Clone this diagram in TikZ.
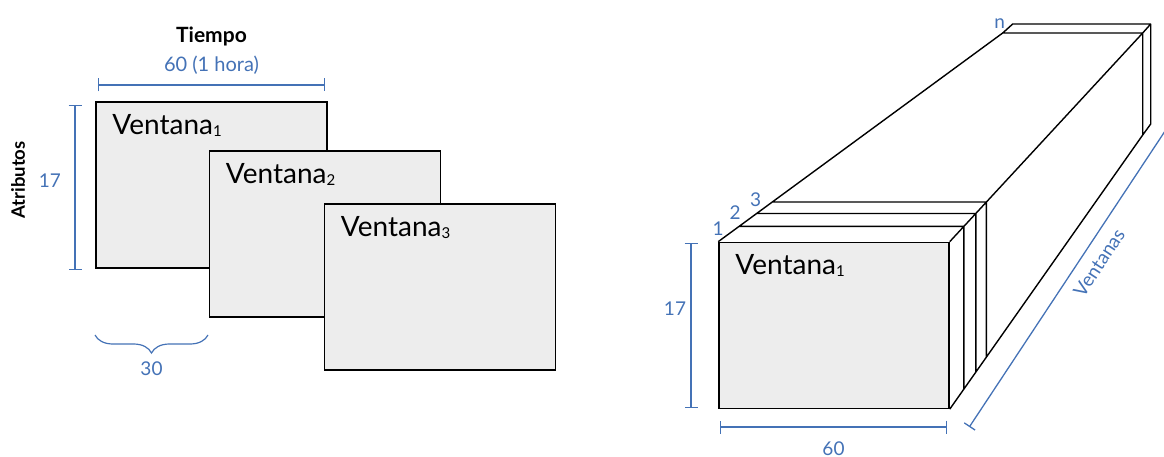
\documentclass[tikz,border=0pt]{standalone}
\usepackage{fontspec}
\setmainfont{Lato}
\usetikzlibrary{arrows.meta,decorations.pathreplacing}

\definecolor{dimblue}{RGB}{68,114,182}
\newcommand{\winsub}[1]{\raisebox{-2pt}{\fontsize{15}{15}\selectfont #1}}

\begin{document}
\begin{tikzpicture}
                [
                    x=1pt,
                    y=-1pt,
                    node distance=28pt,
                    window/.style={shape=rectangle, draw, line width=1.5pt, fill=gray!14,
                                   minimum width=231pt, minimum height=166pt, inner sep=0pt,
                                   label={[window title]north west:{#1}}},
                    window title/.style={anchor=base west, xshift=17pt, yshift=-33pt,
                                         inner sep=0pt, font=\fontsize{28}{30}\selectfont},
                    edge3d/.style={line width=1.4pt, line join=round},
                    dim/.style={draw=dimblue, line width=1.3pt, {Bar[width=13pt]}-{Bar[width=13pt]}},
                    dim label/.style={text=dimblue, font=\fontsize{19}{22}\selectfont},
                    axis title/.style={font=\fontsize{21}{24}\selectfont\bfseries},
                    shift brace/.style={draw=dimblue, line width=1.2pt, decorate,
                                        decoration={brace, amplitude=18pt, mirror}}
                ]
                \useasboundingbox (0,0) rectangle (1164,457);

                \node (w1) [window={Ventana\winsub{1}}] at (211.5,185) {};
                \node (w2) [window={Ventana\winsub{2}}] at (325,234)   {};
                \node (w3) [window={Ventana\winsub{3}}] at (440,287)   {};

                \coordinate (time start)  at (98,85);
                \coordinate (time end)    at (325,85);
                \coordinate (attr start)  at (75,105);
                \coordinate (attr end)    at (75,270);
                \coordinate (shift start) at (95,335);
                \coordinate (shift end)   at (208,335);

                \path
                (time start) edge [dim] node (time len) [dim label, font=\fontsize{20}{23}\selectfont, above=7pt] {60 (1 hora)} (time end)
                (attr start) edge [dim] node (attr len) [dim label, left=10pt, pos=.46] {17} (attr end)
                ;

                \node (time title)
                      [axis title, above of=time len]
                      {Tiempo};

                \node (attr title)
                      [axis title, font=\fontsize{18.5}{22}\selectfont\bfseries, rotate=90]
                      at (18,180)
                      {Atributos};

                \draw [shift brace] (shift start) -- node (shift len) [dim label, below=23pt] {30} (shift end);

                \coordinate (far tl)  at (1002.7,33);
                \coordinate (far tr)  at (1142.7,33);
                \coordinate (far br)  at (1142.7,135);
                \coordinate (back tl) at (1012.7,24);
                \coordinate (back tr) at (1150.7,24);
                \coordinate (back br) at (1150.7,124);

                \node (f1) [window={Ventana\winsub{1}}, minimum width=230pt] at (834,325.4) {};

                \path (f1.north west) -- (far tl)
                      coordinate [pos=.073] (s2 tl)
                      coordinate [pos=.135] (s3 tl)
                      coordinate [pos=.19]  (s4 tl);
                \path (f1.north east) -- (far tr)
                      coordinate [pos=.073] (s2 tr)
                      coordinate [pos=.135] (s3 tr)
                      coordinate [pos=.19]  (s4 tr);
                \path (f1.south east) -- (far br)
                      coordinate [pos=.073] (s2 br)
                      coordinate [pos=.135] (s3 br)
                      coordinate [pos=.19]  (s4 br);

                \draw [edge3d]
                (f1.north west) -- (far tl) -- (far tr) -- (f1.north east)
                (f1.south east) -- (far br) -- (far tr)
                (far tl) -- (back tl) -- (back tr) -- (back br) -- (far br)
                (back tr) -- (far tr)
                (s2 tl) -- (s2 tr) -- (s2 br)
                (s3 tl) -- (s3 tr) -- (s3 br)
                (s4 tl) -- (s4 tr) -- (s4 br)
                ;

                \node (slice 1) [dim label, above=3pt]              at (f1.north west) {1};
                \node (slice 2) [dim label, above=3pt, xshift=-4pt] at (s2 tl)         {2};
                \node (slice 3) [dim label, above=3pt, xshift=-1pt] at (s3 tl)         {3};
                \node (slice n) [dim label, above=1pt, xshift=-3pt] at (far tl)        {n};

                \coordinate (height start) at (691,243);
                \coordinate (height end)   at (691,408);
                \coordinate (width start)  at (720,427);
                \coordinate (width end)    at (947,427);
                \coordinate (count start)  at (969.3,427);
                \coordinate (count end)    at (1175,116);

                \path
                (height start) edge [dim] node (height len) [dim label, left=1pt, pos=.4] {17} (height end)
                (width start)  edge [dim] node (width len) [dim label, below=11pt] {60} (width end)
                (count start)  edge [dim] node (count len) [dim label, sloped, below, inner sep=10pt, pos=.56] {Ventanas} (count end)
                ;

            \end{tikzpicture}
\end{document}
